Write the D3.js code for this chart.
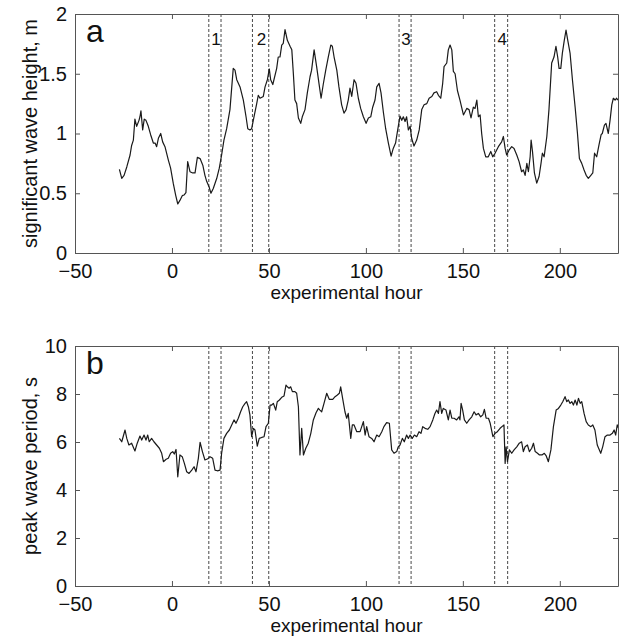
<!DOCTYPE html>
<html>
<head>
<meta charset="utf-8">
<script src="https://cdn.jsdelivr.net/npm/d3@7"></script>
<style>
  body { margin: 0; background: #fff; }
  svg text { font-family: "Liberation Sans", Arial, sans-serif; fill: #111; }
</style>
</head>
<body>
<div id="chart"></div>
<script>
// significant wave height (panel a)
const hsHours = [-27.1,-25.9,-24.7,-23.3,-21.6,-20.8,-19.9,-19.1,-18.2,-17.0,-16.5,-16.0,-15.1,-14.3,-13.4,-12.2,-11.0,-9.6,-8.7,-7.9,-7.0,-5.8,-4.8,-3.6,-1.9,-0.7,0.7,1.9,3.0,4.1,5.3,6.2,7.2,8.1,9.3,10.7,11.9,13.1,14.5,15.9,17.0,17.9,19.1,20.1,21.3,23.1,24.4,25.6,26.8,28.2,29.9,31.6,32.5,33.4,35.1,36.8,38.2,39.1,40.2,41.1,42.3,43.7,44.5,45.4,47.1,48.0,49.2,50.2,50.9,52.0,54.0,54.8,55.7,56.6,57.4,58.3,59.5,60.9,61.8,62.6,63.4,64.3,65.2,66.4,67.2,68.6,69.8,71.2,72.0,73.3,74.6,75.8,76.9,78.0,79.3,80.6,81.9,82.7,83.6,85.0,86.1,87.5,88.7,89.8,90.9,91.8,92.7,93.9,94.9,96.1,97.3,98.7,100.1,101.3,102.5,103.5,104.7,105.6,106.8,107.8,109.0,110.2,111.6,113.0,114.1,115.3,116.4,117.6,118.5,119.3,120.2,121.0,121.9,122.8,123.6,124.8,126.2,127.5,128.8,130.0,131.4,132.6,134.0,135.1,136.5,137.4,138.6,139.6,140.3,141.7,142.5,143.4,144.3,145.1,146.0,147.2,148.5,150.3,152.0,153.2,154.2,155.4,156.3,157.2,158.0,158.9,159.7,160.6,161.8,163.1,164.4,165.4,166.6,168.3,170.0,170.9,171.8,172.6,173.8,175.2,176.4,177.8,179.0,180.3,181.2,182.1,183.0,183.8,184.7,185.2,185.9,186.9,188.1,189.3,190.3,191.0,191.9,193.3,194.4,195.8,197.0,198.0,198.9,199.6,200.5,201.3,202.3,203.2,204.1,205.3,206.5,207.9,209.1,210.1,211.3,212.5,213.6,214.7,216.0,217.0,217.9,219.0,220.2,221.3,221.9,223.0,223.8,225.0,225.9,226.8,227.6,228.5,229.3,230.0];
const hsValues = [0.70,0.625,0.65,0.72,0.82,0.90,0.945,1.12,1.06,1.11,1.14,1.19,1.03,1.12,1.11,1.06,0.99,0.92,0.92,0.89,0.96,1.00,0.93,0.89,0.78,0.71,0.58,0.485,0.41,0.44,0.48,0.485,0.505,0.765,0.68,0.67,0.67,0.80,0.79,0.735,0.65,0.60,0.555,0.50,0.54,0.625,0.71,0.82,0.945,1.04,1.20,1.545,1.53,1.45,1.39,1.28,1.14,1.04,1.03,1.04,1.14,1.25,1.32,1.295,1.31,1.39,1.45,1.54,1.45,1.41,1.545,1.64,1.64,1.74,1.755,1.87,1.78,1.73,1.70,1.50,1.28,1.25,1.13,1.085,1.14,1.20,1.34,1.475,1.53,1.70,1.56,1.42,1.295,1.41,1.53,1.64,1.74,1.73,1.64,1.53,1.39,1.24,1.17,1.20,1.28,1.38,1.31,1.45,1.42,1.295,1.21,1.14,1.085,1.13,1.14,1.22,1.28,1.39,1.42,1.34,1.18,1.04,0.92,0.81,0.875,0.92,1.03,1.145,1.11,1.14,1.10,1.14,1.03,1.06,0.96,0.895,0.945,1.03,1.20,1.24,1.25,1.295,1.31,1.34,1.35,1.32,1.295,1.42,1.56,1.59,1.70,1.74,1.70,1.52,1.50,1.36,1.28,1.155,1.21,1.20,1.13,1.22,1.21,1.28,1.14,1.155,1.00,0.875,0.805,0.805,0.85,0.805,0.835,0.89,0.93,0.975,0.875,0.82,0.86,0.89,0.875,0.82,0.765,0.68,0.695,0.65,0.75,0.68,0.805,0.945,0.85,0.67,0.585,0.64,0.75,0.835,0.805,0.975,1.20,1.59,1.64,1.73,1.64,1.545,1.545,1.67,1.78,1.865,1.78,1.67,1.45,1.22,1.00,0.79,0.75,0.695,0.65,0.625,0.65,0.67,0.835,0.805,0.905,0.99,1.00,1.07,1.085,1.00,1.11,1.24,1.295,1.28,1.295,1.28];

// peak wave period (panel b)
const tpHours = [-27.1,-25.9,-24.2,-23.3,-22.2,-20.8,-19.1,-17.9,-16.5,-15.6,-14.4,-13.4,-12.5,-11.7,-10.5,-9.3,-7.9,-6.5,-5.3,-4.4,-3.0,-1.9,-0.7,0.4,1.2,2.1,3.0,4.1,5.3,6.4,7.6,8.8,10.2,11.4,12.4,13.6,14.5,15.7,17.0,18.5,19.6,21.0,22.2,23.4,24.8,25.6,26.8,28.2,29.6,30.8,32.0,33.0,34.2,35.4,36.5,37.7,38.5,39.4,40.2,41.1,42.0,42.8,44.0,45.0,46.3,47.5,48.5,49.7,50.6,51.4,52.3,53.5,54.3,55.4,56.6,57.8,58.8,59.5,60.4,61.2,62.1,63.4,64.3,65.2,66.0,66.9,67.8,69.0,70.3,71.6,72.9,74.3,75.5,76.3,77.2,78.4,79.8,81.1,82.9,84.1,85.3,86.3,87.0,88.0,89.2,90.1,90.9,92.2,93.0,93.9,95.3,97.0,98.7,99.6,100.4,101.6,103.0,104.2,105.6,106.8,108.2,109.3,110.7,112.1,113.3,114.5,115.9,116.7,117.6,118.8,119.8,121.0,121.9,122.8,123.9,125.0,126.2,127.4,128.4,129.3,130.5,131.9,133.1,134.5,135.6,136.5,137.4,138.2,139.1,139.9,141.3,142.5,143.4,144.3,145.5,146.8,148.0,148.5,149.1,149.9,150.8,152.0,153.2,154.6,155.8,156.8,158.0,159.2,160.3,161.1,162.0,163.2,164.1,165.5,166.6,167.8,169.2,170.6,171.2,171.8,172.3,173.0,174.0,175.2,176.4,177.8,179.1,180.3,181.2,182.1,183.3,184.3,185.5,186.4,187.3,188.5,189.5,190.8,192.0,193.0,194.1,195.4,196.7,198.1,199.3,200.5,201.5,202.7,203.6,204.4,205.3,206.2,207.0,207.9,208.8,209.6,210.5,211.3,212.5,213.6,214.7,216.0,217.0,218.1,219.3,220.4,221.1,222.1,223.3,224.5,225.9,227.1,228.0,228.8,229.6,230.0];
const tpValues = [6.15,6.01,6.5,6.15,5.875,5.95,5.625,5.95,6.25,6.08,6.29,6.08,6.29,6.01,6.15,6.01,5.875,5.74,5.53,5.18,5.28,5.32,5.53,5.6,5.5,5.69,4.55,5.46,5.39,5.11,4.76,4.69,4.83,4.97,4.76,5.32,5.99,5.60,5.25,5.3,5.39,5.32,4.83,4.80,4.83,5.53,6.15,6.36,6.5,6.71,6.92,6.78,6.99,7.26,7.47,7.61,7.68,7.47,7.13,6.22,6.57,6.5,5.83,6.15,6.19,6.22,6.64,6.78,7.54,7.54,7.61,7.33,7.68,7.75,7.86,7.92,8.375,8.3,8.24,8.3,8.1,8.1,8.03,7.47,5.46,6.57,5.46,5.74,5.95,6.36,6.92,7.22,7.40,7.33,7.26,7.61,8.03,7.78,7.78,7.89,7.96,8.03,8.3,7.82,7.26,6.99,7.19,6.15,6.71,6.71,6.43,6.43,6.85,6.29,6.64,6.22,6.15,6.01,6.29,6.22,6.43,6.64,6.81,6.78,5.67,5.53,5.6,5.80,5.875,6.15,6.01,6.29,6.15,6.29,6.15,6.29,6.22,6.43,6.36,6.64,6.57,6.53,6.64,6.92,7.19,7.33,7.19,7.68,7.19,7.40,7.33,6.92,7.33,6.99,6.99,6.92,7.05,6.92,7.61,7.33,6.92,6.78,6.92,7.05,7.26,7.13,7.19,7.05,7.13,7.36,6.99,6.99,6.78,6.22,6.36,6.43,6.57,6.67,6.71,5.11,5.80,5.18,5.67,5.53,5.67,5.80,5.95,6.01,5.60,5.80,5.875,5.6,5.74,5.95,5.6,5.53,5.46,5.46,5.53,5.42,5.18,5.67,6.64,7.33,7.40,7.54,7.68,7.89,7.68,7.75,7.61,7.68,7.54,7.75,7.54,7.82,7.61,7.68,7.19,6.85,6.71,6.64,6.71,6.5,5.875,5.67,5.53,5.80,6.22,6.29,6.29,6.36,6.5,6.29,6.71,6.6];

// dashed case windows and their labels
const caseStarts = [19, 41.5, 117.1, 166.4];
const caseEnds = [25.3, 49.9, 123.3, 173.1];
const caseLabels = ["1", "2", "3", "4"];

const xTicks = [-50, 0, 50, 100, 150, 200];
const hsTicks = [0, 0.5, 1, 1.5, 2];
const tpTicks = [0, 2, 4, 6, 8, 10];

const W = 624, H = 642;
const svg = d3.select("#chart").append("svg")
    .attr("width", W).attr("height", H);
svg.append("rect").attr("width", W).attr("height", H).attr("fill", "#fff");

const x = d3.scaleLinear().domain([-50, 230]).range([75, 618]);

function drawPanel(top, bottom, yDomain, yTicks, yFmt, hours, values, letter, yLabel, showCaseLabels) {
    const y = d3.scaleLinear().domain(yDomain).range([bottom, top]);
    const g = svg.append("g");

    // dashed lines for the cases
    caseStarts.forEach((s, i) => {
        [s, caseEnds[i]].forEach(v => {
            g.append("line")
                .attr("x1", x(v)).attr("x2", x(v))
                .attr("y1", top).attr("y2", bottom)
                .attr("stroke", "#333").attr("stroke-width", 0.9)
                .attr("stroke-dasharray", "3,2");
        });
        if (showCaseLabels) {
            g.append("text")
                .attr("x", (x(s) + x(caseEnds[i])) / 2 + 1)
                .attr("y", top + 31)
                .attr("text-anchor", "middle")
                .attr("font-size", 17)
                .text(caseLabels[i]);
        }
    });

    const line = d3.line()
        .x((d, i) => x(hours[i]))
        .y(d => y(d));
    g.append("path")
        .datum(values)
        .attr("d", line)
        .attr("fill", "none")
        .attr("stroke", "#1a1a1a")
        .attr("stroke-width", 1.2)
        .attr("stroke-linejoin", "round");

    // box axes with inward ticks
    const axB = g.append("g").attr("transform", `translate(0,${bottom})`)
        .call(d3.axisBottom(x).tickValues(xTicks).tickSizeInner(-5).tickSizeOuter(0).tickPadding(11));
    const axT = g.append("g").attr("transform", `translate(0,${top})`)
        .call(d3.axisTop(x).tickValues(xTicks).tickSizeInner(-5).tickSizeOuter(0).tickFormat(""));
    const axL = g.append("g").attr("transform", "translate(75,0)")
        .call(d3.axisLeft(y).tickValues(yTicks).tickFormat(yFmt).tickSizeInner(-5).tickSizeOuter(0).tickPadding(8));
    const axR = g.append("g").attr("transform", "translate(618,0)")
        .call(d3.axisRight(y).tickValues(yTicks).tickSizeInner(-5).tickSizeOuter(0).tickFormat(""));

    [axB, axT, axL, axR].forEach(a => {
        a.selectAll("path, line").attr("stroke", "#555");
        a.selectAll("text").attr("font-size", 20).attr("fill", "#111")
            .style("font-family", "'Liberation Sans', Arial, sans-serif");
    });

    g.append("text")
        .attr("x", 86).attr("y", top + 28)
        .attr("font-size", 32)
        .text(letter);

    g.append("text")
        .attr("transform", `translate(37,${(top + bottom) / 2}) rotate(-90)`)
        .attr("text-anchor", "middle")
        .attr("font-size", 20)
        .text(yLabel);

    g.append("text")
        .attr("x", (75 + 618) / 2).attr("y", bottom + 46)
        .attr("text-anchor", "middle")
        .attr("font-size", 19)
        .text("experimental hour");
}

drawPanel(14, 253, [0, 2], hsTicks, d3.format(""), hsHours, hsValues, "a", "significant wave height, m", true);
drawPanel(346, 586, [0, 10], tpTicks, d3.format("d"), tpHours, tpValues, "b", "peak wave period, s", false);
</script>
</body>
</html>
